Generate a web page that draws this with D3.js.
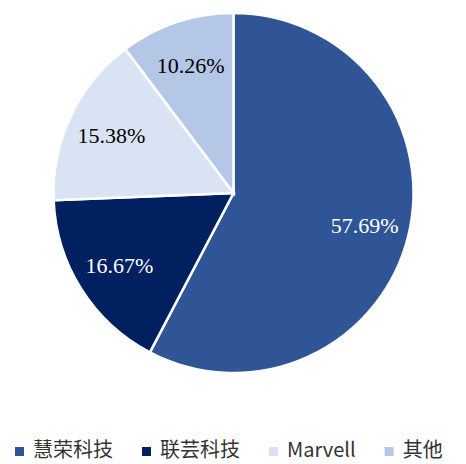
<!DOCTYPE html>
<html>
<head>
<meta charset="utf-8">
<script src="https://cdn.jsdelivr.net/npm/d3@7"></script>
<style>
html,body{margin:0;padding:0;background:#fff;}
svg{display:block;}
</style>
</head>
<body>
<svg id="chart" width="466" height="464"></svg>
<script>
const categories = ["慧荣科技", "联芸科技", "Marvell", "其他"];
const values = [57.69, 16.67, 15.38, 10.26];
const labels = ["57.69%", "16.67%", "15.38%", "10.26%"];
const colors = ["#2F5597", "#002060", "#DAE3F3", "#B4C7E7"];
const labelColors = ["#ffffff", "#ffffff", "#000000", "#000000"];

const svg = d3.select("#chart");
const cx = 233.5, cy = 193, R = 180;

const pie = d3.pie().sort(null).value(d => d)(values);
const arc = d3.arc().innerRadius(0).outerRadius(R);
const labelArc = d3.arc().innerRadius(R * 0.75).outerRadius(R * 0.75);

const g = svg.append("g").attr("transform", `translate(${cx},${cy})`);
g.selectAll("path").data(pie).join("path")
  .attr("d", arc)
  .attr("fill", (d, i) => colors[i])
  .attr("stroke", "#fff")
  .attr("stroke-width", 2.5)
  .attr("stroke-linejoin", "miter");

g.selectAll("text").data(pie).join("text")
  .attr("transform", d => { const c = labelArc.centroid(d); return `translate(${c[0]},${c[1]})`; })
  .attr("text-anchor", "middle")
  .attr("dy", "0.35em")
  .attr("font-family", "'Liberation Serif','Times New Roman',serif")
  .attr("font-size", 22)
  .attr("fill", (d, i) => labelColors[i])
  .text((d, i) => labels[i]);

// legend
const leg = svg.append("g").attr("transform", "translate(15,450)");
let x = 0;
categories.forEach((c, i) => {
  const it = leg.append("g").attr("transform", `translate(${x},0)`);
  it.append("rect").attr("x", 0).attr("y", -3).attr("width", 9).attr("height", 9).attr("fill", colors[i]);
  const t = it.append("text").attr("x", 18).attr("dy", "0.36em")
    .attr("font-family", "'Noto Sans CJK SC','Noto Sans',sans-serif")
    .attr("font-size", 20).attr("fill", "#333")
    .text(c);
  x += 18 + t.node().getComputedTextLength() + 29;
});
</script>
</body>
</html>
